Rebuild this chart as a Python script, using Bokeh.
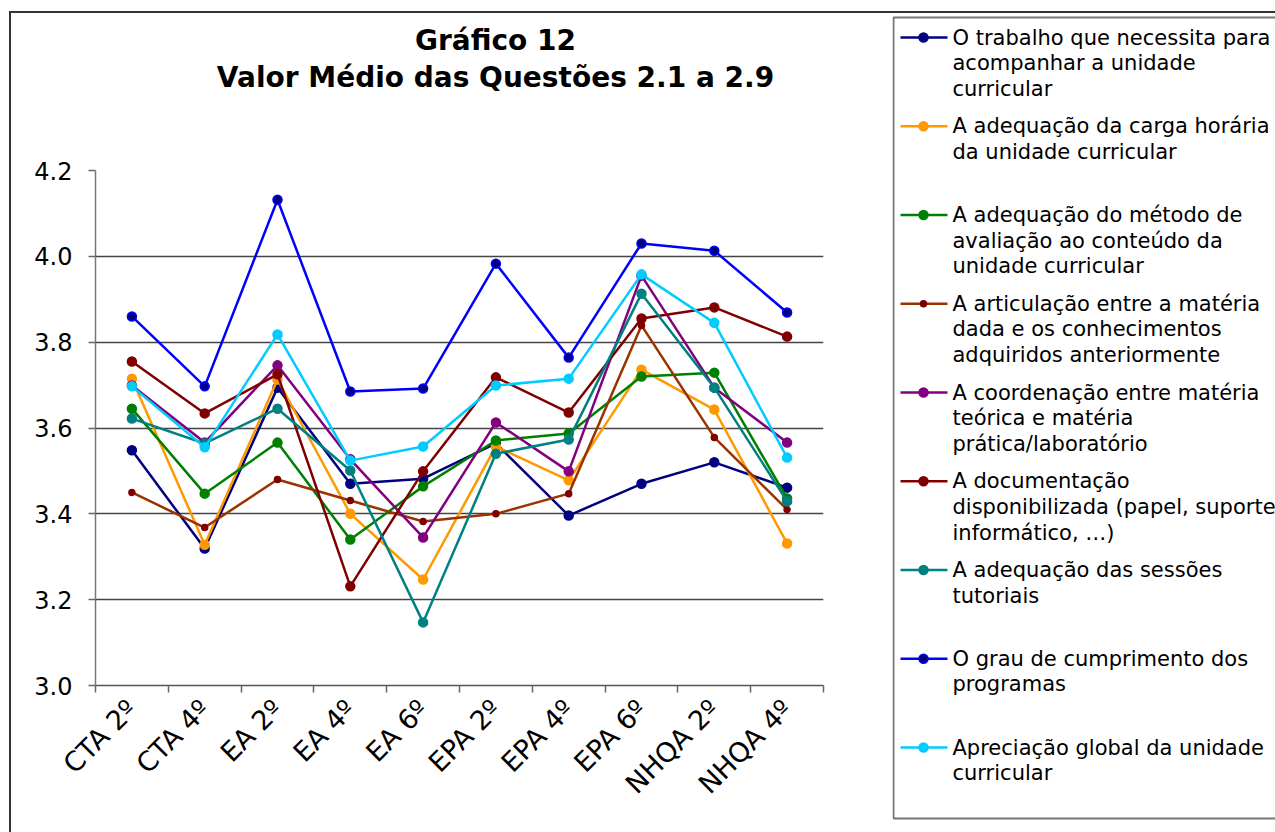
import math
from bokeh.plotting import figure
from bokeh.models import Range1d, FixedTicker, PrintfTickFormatter, ColumnDataSource, Spacer
from bokeh.layouts import row, column
from bokeh.core.properties import value
from bokeh.embed import file_html
from bokeh.resources import INLINE

# ---------------- data ----------------
categories = ["CTA 2º", "CTA 4º", "EA 2º", "EA 4º", "EA 6º",
              "EPA 2º", "EPA 4º", "EPA 6º", "NHQA 2º", "NHQA 4º"]
title_lines = ["Gráfico 12", "Valor Médio das Questões 2.1 a 2.9"]
y_ticks = [3.0, 3.2, 3.4, 3.6, 3.8, 4.0, 4.2]

s_trabalho = [3.548, 3.319, 3.694, 3.470, 3.482, 3.564, 3.396, 3.470, 3.520, 3.461]
s_carga = [3.715, 3.328, 3.713, 3.400, 3.247, 3.557, 3.478, 3.736, 3.643, 3.331]
s_metodo = [3.645, 3.447, 3.566, 3.340, 3.464, 3.571, 3.587, 3.720, 3.729, 3.436]
s_articulacao = [3.450, 3.368, 3.480, 3.431, 3.382, 3.400, 3.447, 3.839, 3.578, 3.410]
s_coordenacao = [3.699, 3.566, 3.746, 3.527, 3.345, 3.613, 3.499, 3.955, 3.694, 3.566]
s_documentacao = [3.755, 3.634, 3.725, 3.231, 3.499, 3.718, 3.636, 3.855, 3.881, 3.813]
s_sessoes = [3.622, 3.564, 3.645, 3.501, 3.147, 3.540, 3.573, 3.913, 3.694, 3.429]
s_grau = [3.860, 3.697, 4.132, 3.685, 3.692, 3.983, 3.764, 4.030, 4.013, 3.869]
s_apreciacao = [3.697, 3.555, 3.818, 3.524, 3.557, 3.699, 3.715, 3.958, 3.845, 3.531]

series_names = [
    "O trabalho que necessita para\nacompanhar a unidade\ncurricular",
    "A adequação da carga horária\nda unidade curricular",
    "A adequação do método de\navaliação ao conteúdo da\nunidade curricular",
    "A articulação entre a matéria\ndada e os conhecimentos\nadquiridos anteriormente",
    "A coordenação entre matéria\nteórica e matéria\nprática/laboratório",
    "A documentação\ndisponibilizada (papel, suporte\ninformático, …)",
    "A adequação das sessões\ntutoriais",
    "O grau de cumprimento dos\nprogramas",
    " Apreciação global da unidade\ncurricular",
]
series_values = [s_trabalho, s_carga, s_metodo, s_articulacao, s_coordenacao,
                 s_documentacao, s_sessoes, s_grau, s_apreciacao]

# ---------------- styles ----------------
line_colors = ["#000080", "#FF9900", "#008000", "#993300", "#800080",
               "#800000", "#008080", "#0000FF", "#00CCFF"]
marker_fill = ["#000080", "#FF9900", "#008000", "#800000", "#800080",
               "#800000", "#008080", "#000080", "#00CCFF"]
marker_line = ["#000080", "#FF9900", "#008000", "#800000", "#800080",
               "#800000", "#008080", "#0000FF", "#00CCFF"]
marker_size = [9, 9, 9, 6, 9, 9, 9, 9, 9]
FONT = "DejaVu Sans"

x = [i + 0.5 for i in range(len(categories))]

LEFT_W = 881
TITLE_H = 100
CHART_H = 719
LW, LH = 383, TITLE_H + CHART_H


def blank_fig(w, h):
    f = figure(width=w, height=h, x_range=Range1d(0, w), y_range=Range1d(h, 0),
               output_backend="svg", toolbar_location=None, min_border=0,
               x_axis_location=None, y_axis_location=None)
    f.grid.visible = False
    f.outline_line_color = None
    f.background_fill_color = "white"
    f.border_fill_color = "white"
    f.frame_align = False
    return f


# ---------------- title panel ----------------
tfig = blank_fig(LEFT_W, TITLE_H)
tfig.text(x=[484] * len(title_lines), y=[27 + 37 * i for i in range(len(title_lines))],
          text=title_lines, text_font=value(FONT), text_font_size=value("28px"),
          text_font_style="bold", text_color="black",
          text_align="center", text_baseline="middle")

# ---------------- chart ----------------
p = figure(width=LEFT_W, height=CHART_H,
           x_range=Range1d(0, len(categories)), y_range=Range1d(y_ticks[0], y_ticks[-1]),
           output_backend="svg", toolbar_location=None,
           min_border_left=84, min_border_right=69, min_border_top=57, min_border_bottom=147)
p.outline_line_color = None
p.background_fill_color = "white"
p.border_fill_color = "white"
p.frame_align = False

xa = p.xaxis[0]
xa.ticker = FixedTicker(ticks=x, minor_ticks=list(range(len(categories) + 1)))
xa.major_label_overrides = {xi: c for xi, c in zip(x, categories)}
xa.major_tick_line_color = None
xa.major_tick_out = 0
xa.major_tick_in = 0
xa.minor_tick_line_color = "#666666"
xa.minor_tick_line_width = 1.5
xa.minor_tick_out = 7
xa.minor_tick_in = 0
xa.axis_line_color = "#555555"
xa.axis_line_width = 1.5
xa.major_label_orientation = math.pi / 4
xa.major_label_text_font = FONT
xa.major_label_text_font_size = "27px"
xa.major_label_text_color = "black"
xa.major_label_standoff = 12

ya = p.yaxis[0]
ya.ticker = FixedTicker(ticks=y_ticks, minor_ticks=[])
ya.formatter = PrintfTickFormatter(format="%.1f")
ya.major_tick_out = 7
ya.major_tick_in = 0
ya.major_tick_line_color = "#666666"
ya.major_tick_line_width = 1.5
ya.minor_tick_line_color = None
ya.axis_line_color = "#777777"
ya.axis_line_width = 1.5
ya.major_label_text_font = FONT
ya.major_label_text_font_size = "24px"
ya.major_label_text_color = "black"
ya.major_label_standoff = 16

p.xgrid.visible = False
p.ygrid.ticker = FixedTicker(ticks=y_ticks[1:-1])
p.ygrid.grid_line_color = "#444444"
p.ygrid.grid_line_width = 1.5

for vals, lc, mf, ml, ms in zip(series_values, line_colors, marker_fill, marker_line, marker_size):
    p.line(x, vals, line_color=lc, line_width=2.5)
    p.scatter(x, vals, marker="circle", size=ms, fill_color=mf, line_color=ml, line_width=1.5)

# ---------------- legend panel ----------------
leg = blank_fig(LW, LH)
leg.quad(left=[1], right=[LW + 20], top=[4], bottom=[805],
         fill_color=None, line_color="#777777", line_width=2)

item_y0, item_step, line_step = 24, 88.75, 25.7
item_y = [item_y0 + i * item_step for i in range(len(series_names))]
leg.segment(x0=8, x1=55, y0=item_y, y1=item_y, line_color=line_colors, line_width=2.5)
leg.scatter([31] * len(item_y), item_y, marker="circle", size=marker_size,
            fill_color=marker_fill, line_color=marker_line, line_width=1.5)

tx, ty, tt = [], [], []
for yy, name in zip(item_y, series_names):
    for j, ln in enumerate(name.split("\n")):
        tx.append(60)
        ty.append(yy + j * line_step)
        tt.append(ln)
leg.text(x="x", y="y", text="t", source=ColumnDataSource(dict(x=tx, y=ty, t=tt)),
         text_font=value(FONT), text_font_size=value("21px"), text_color="black",
         text_baseline="middle", text_align="left")

inner = row(column(tfig, p, spacing=0), leg, spacing=0,
            styles={"border-top": "2px solid #333333", "border-left": "2px solid #333333"})
layout = row(Spacer(width=9), column(Spacer(height=11), inner, spacing=0), spacing=0)

open("out.html", "w").write(file_html(layout, INLINE))
